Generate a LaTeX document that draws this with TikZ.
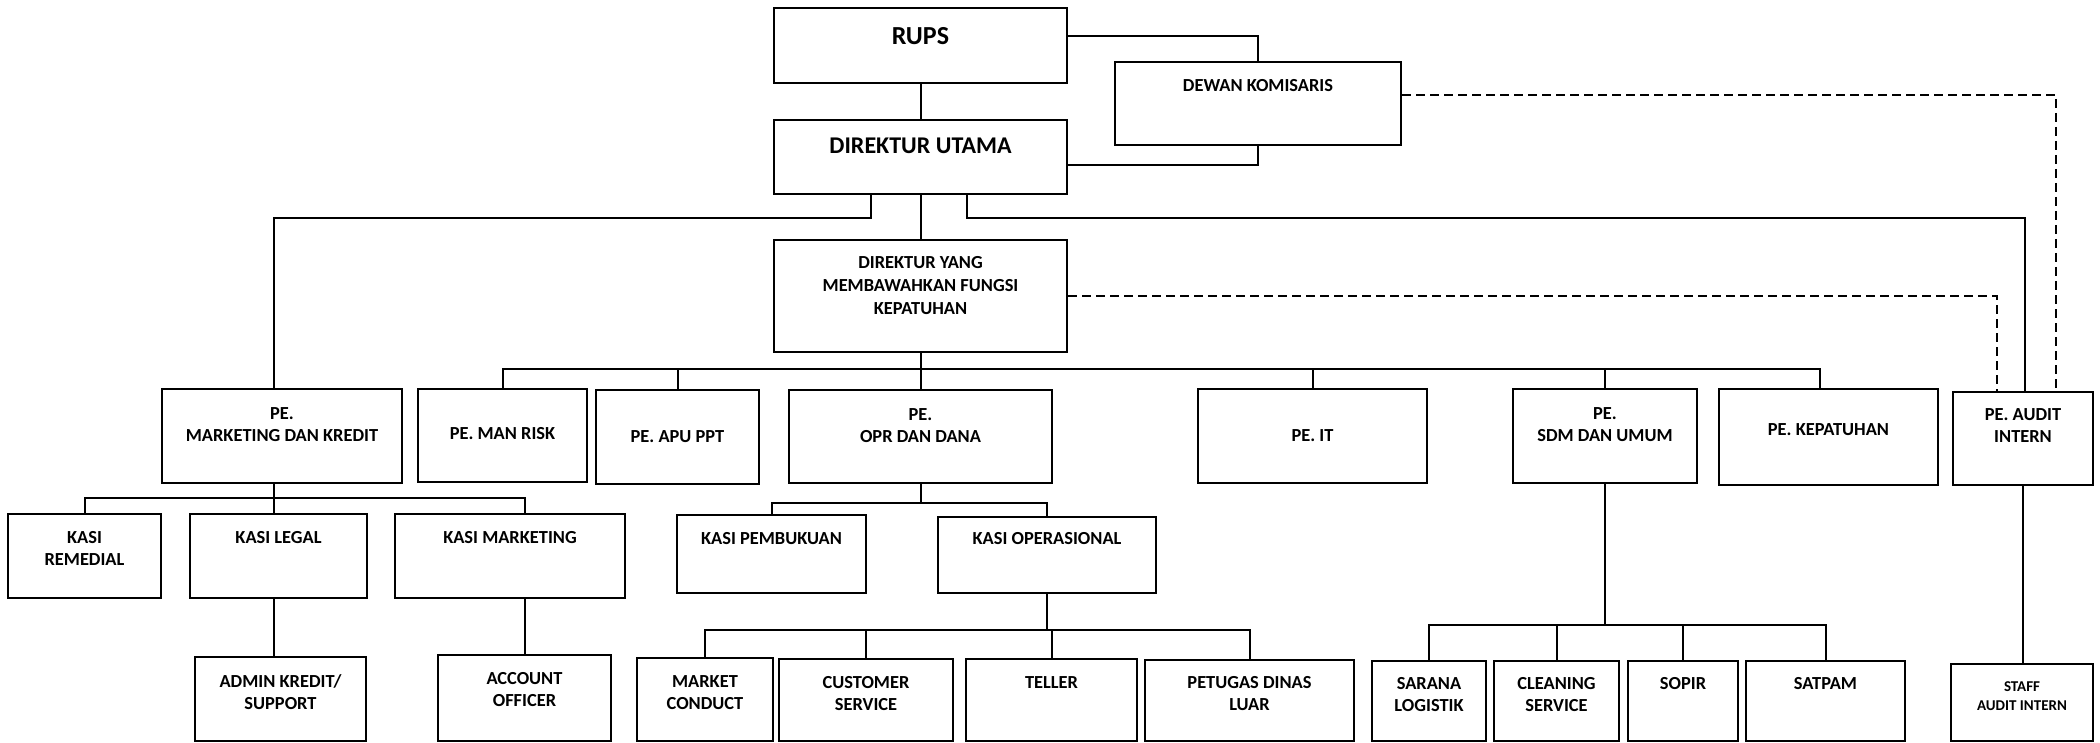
\documentclass[tikz,border=0pt]{standalone}
\usepackage{fontspec}
\setmainfont{Carlito}
\usepackage{tikz}
\usetikzlibrary{positioning}

\begin{document}
\begin{tikzpicture}[
  x=1pt, y=-1pt, %pixels
  unit/.style={draw, line width=2pt, anchor=north west, inner sep=0pt},
  box/.style 2 args={unit, minimum width=#1pt, minimum height=#2pt},
  tag/.style={anchor=north, inner sep=0pt, align=center, yshift=-18pt,
    font=\fontsize{18.4}{22}\selectfont\bfseries},
  small tag/.style={tag, font=\fontsize{15}{19}\selectfont\bfseries},
  link/.style={line width=2pt},
  watch/.style={line width=2pt, dash pattern=on 9pt off 5pt}
  ]
  \useasboundingbox (0,0) rectangle (2100,743);

  % top
  \node[box={293}{75}, label={[tag, yshift=-2pt, font=\fontsize{26}{30}\selectfont\bfseries]north:RUPS}] (rups) at (773,7) {};
  \node[box={286}{83}, label={[tag]north:DEWAN KOMISARIS}] (dekom) at (1114,61) {};
  \node[box={293}{74}, label={[tag, yshift=-1pt, font=\fontsize{24}{28}\selectfont\bfseries]north:DIREKTUR UTAMA}] (dirut) at (773,119) {};
  \node[box={293}{112}, label={[tag, yshift=1pt, font=\fontsize{18.4}{23}\selectfont\bfseries]north:DIREKTUR YANG\\MEMBAWAHKAN FUNGSI\\KEPATUHAN}] (dirkep) at (773,239) {};

  % PE
  \node[box={240}{94}, label={[tag, yshift=-1pt]north:PE.\\MARKETING DAN KREDIT}] (mkt) at (161,388) {};
  \node[box={169}{93}, label={[tag, yshift=-21pt]north:PE. MAN RISK}] (manrisk) at (417,388) {};
  \node[box={163}{94}, label={[tag, yshift=-23pt]north:PE. APU PPT}] (apu) at (595,389) {};
  \node[box={263}{93}, label={[tag, yshift=-1pt]north:PE.\\OPR DAN DANA}] (opr) at (788,389) {};
  \node[box={229}{94}, label={[tag, yshift=-23pt]north:PE. IT}] (it) at (1197,388) {};
  \node[box={184}{94}, label={[tag, yshift=-1pt]north:PE.\\SDM DAN UMUM}] (sdm) at (1512,388) {};
  \node[box={219}{96}, label={[tag, yshift=-17pt]north:PE. KEPATUHAN}] (kep) at (1718,388) {};
  \node[box={140}{93}, label={[tag, yshift=1pt]north:PE. AUDIT\\INTERN}] (audit) at (1952,391) {};

  % kasi
  \node[box={153}{84}, label={[tag]north:KASI\\REMEDIAL}] (remedial) at (7,513) {};
  \node[box={177}{84}, label={[tag]north:KASI LEGAL}] (legal) at (189,513) {};
  \node[box={230}{84}, label={[tag]north:KASI MARKETING}] (kmkt) at (394,513) {};
  \node[box={189}{78}, label={[tag]north:KASI PEMBUKUAN}] (pembukuan) at (676,514) {};
  \node[box={218}{76}, label={[tag, yshift=2pt]north:KASI OPERASIONAL}] (ops) at (937,516) {};

  % staf
  \node[box={171}{84}, label={[tag]north:ADMIN KREDIT/\\SUPPORT}] (admin) at (194,656) {};
  \node[box={173}{86}, label={[tag]north:ACCOUNT\\OFFICER}] (ao) at (437,654) {};
  \node[box={136}{83}, label={[tag]north:MARKET\\CONDUCT}] (mc) at (636,657) {};
  \node[box={174}{82}, label={[tag]north:CUSTOMER\\SERVICE}] (cs) at (778,658) {};
  \node[box={171}{82}, label={[tag]north:TELLER}] (teller) at (965,658) {};
  \node[box={209}{81}, label={[tag, yshift=1pt]north:PETUGAS DINAS\\LUAR}] (pdl) at (1144,659) {};
  \node[box={114}{80}, label={[tag, yshift=1pt]north:SARANA\\LOGISTIK}] (sarana) at (1371,660) {};
  \node[box={125}{80}, label={[tag, yshift=1pt]north:CLEANING\\SERVICE}] (cleaning) at (1493,660) {};
  \node[box={110}{80}, label={[tag, yshift=1pt]north:SOPIR}] (sopir) at (1627,660) {};
  \node[box={159}{80}, label={[tag, yshift=1pt]north:SATPAM}] (satpam) at (1745,660) {};
  \node[box={142}{77}, label={[small tag]north:STAFF\\AUDIT INTERN}] (staff) at (1950,663) {};

  % lines
  \draw[link] (rups.south) -- (dirut.north);
  \draw[link] ([yshift=9.5pt]rups.east) -| (dekom.north);
  \draw[link] (dekom.south) |- ([yshift=-8pt]dirut.east);
  \draw[link] (dirut.south) -- (dirkep.north);
  \draw[link] ([xshift=-50pt]dirut.south) -- ++(0,23) -| ([xshift=-8pt]mkt.north);
  \draw[link] ([xshift=46pt]dirut.south) -- ++(0,23) -| ([xshift=2pt]audit.north);
  \draw[watch] ([yshift=8.5pt]dekom.east) -| ([xshift=33pt]audit.north);
  \draw[watch] (dirkep.east) -| ([xshift=-26pt]audit.north);

  \draw[link] (dirkep.south) -- ++(0,16) coordinate (pbus);
  \draw[link] (manrisk.north) |- (pbus) -| ([xshift=-9pt]kep.north);
  \foreach \n in {apu, opr, it, sdm}
    \draw[link] (\n.north) -- (\n.north |- pbus);

  \draw[link] ([xshift=-8pt]mkt.south) -- ++(0,14) coordinate (mbus);
  \draw[link] (remedial.north) |- (mbus) -| (ao.north |- kmkt.north);
  \draw[link] (mbus) -- (mbus |- legal.north);
  \draw[link] (mbus |- legal.south) -- (mbus |- admin.north);
  \draw[link] (ao.north |- kmkt.south) -- (ao.north);

  \draw[link] (opr.south) -- ++(0,19) coordinate (obus);
  \draw[link] (pembukuan.north) |- (obus) -| (ops.north);

  \draw[link] (ops.south) -- ++(0,36) coordinate (kbus);
  \draw[link] (mc.north) |- (kbus) -| (pdl.north);
  \foreach \n in {cs, teller}
    \draw[link] (\n.north) -- (\n.north |- kbus);

  \draw[link] (sdm.south) -- ++(0,141) coordinate (sbus);
  \draw[link] (sarana.north) |- (sbus) -| (satpam.north);
  \foreach \n in {cleaning, sopir}
    \draw[link] (\n.north) -- (\n.north |- sbus);

  \draw[link] (audit.south) -- (audit.south |- staff.north);

\end{tikzpicture}
\end{document}
